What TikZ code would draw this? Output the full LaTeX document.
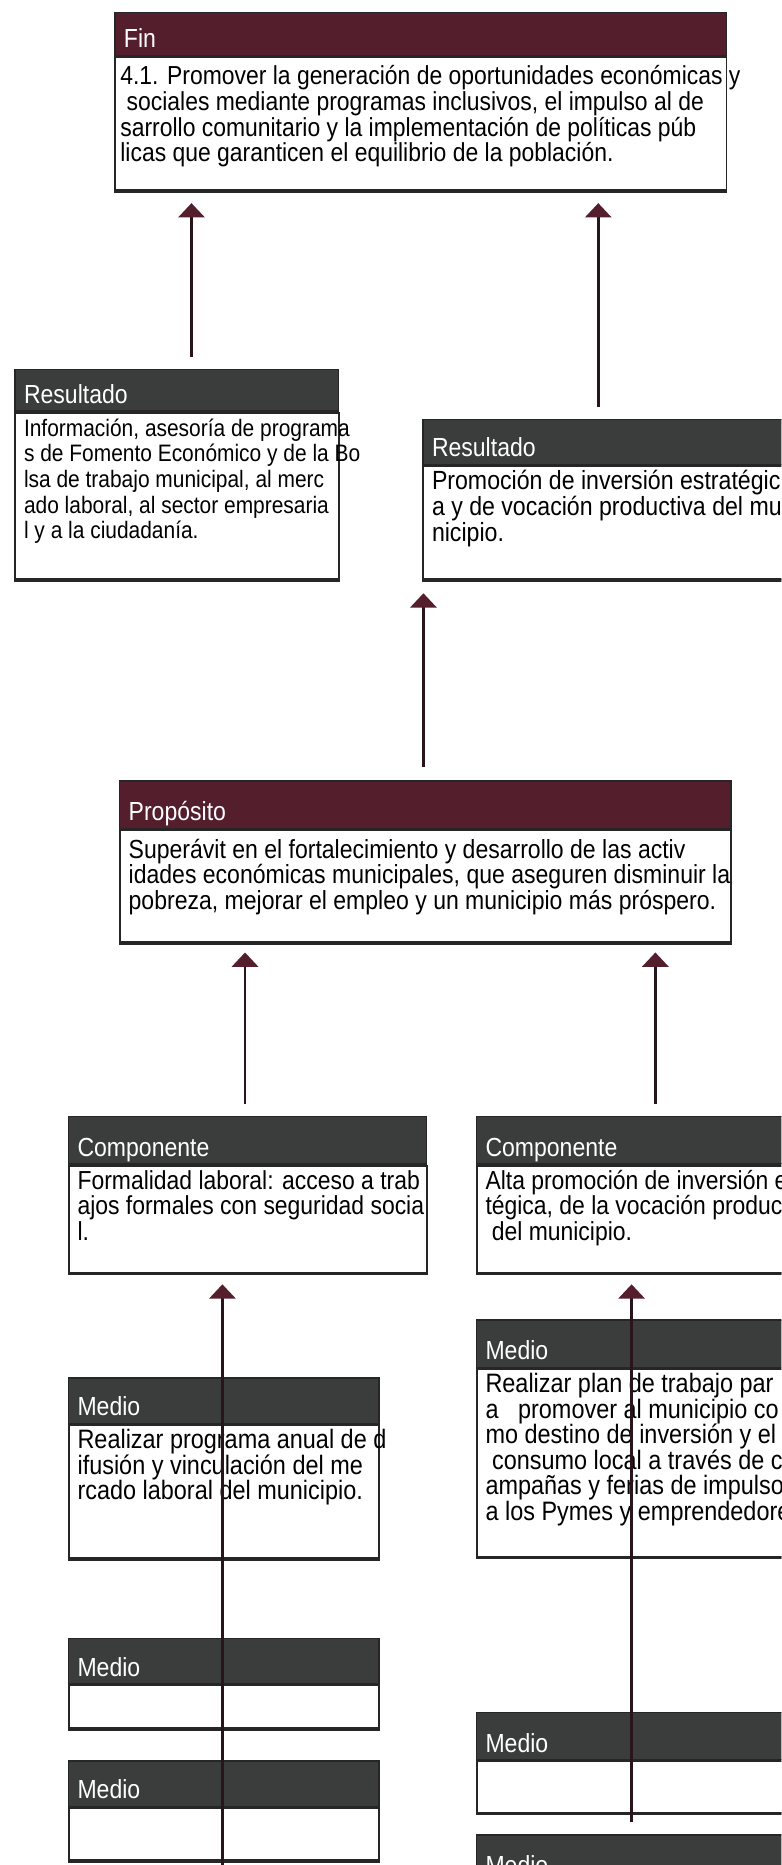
\documentclass[tikz,border=0pt]{standalone}
\usepackage{fontspec}
\setmainfont[FakeStretch=0.88]{Liberation Sans}
\usetikzlibrary{positioning}
\usetikzlibrary{arrows.meta}
\definecolor{vino}{RGB}{84,30,45}
\definecolor{pizarra}{RGB}{58,61,59}
\definecolor{flecha}{RGB}{40,20,28}
\newcommand{\letra}[1]{\fontsize{#1}{21.5}\selectfont}
\tikzset{
	cab/.style={
		rectangle,
		anchor=north west,
		draw=black!85,
		line width=1.2pt,
		minimum height=38pt,
		inner sep=0pt,
		label={[titulo]south west:#1}
	},
	titulo/.style={anchor=base west, text=white, font=\letra{22}, inner xsep=8pt, yshift=7pt},
	cuerpo/.style={
		rectangle,
		anchor=north west,
		draw=black!85,
		fill=white,
		line width=1.6pt,
		inner sep=0pt,
		append after command={(\tikzlastnode.south west) edge[line width=2.6pt, draw=black!85] (\tikzlastnode.south east)}
	},
	texto/.style={anchor=north west, align=left, font=\letra{#1}, inner sep=0pt},
	texto/.default=21.9,
	flechita/.style={
		line width=2.2pt,
		draw=flecha,
		-{Triangle[width=22pt, length=12pt, color=vino]}
	}
}
\begin{document}
\begin{tikzpicture}[x=1pt, y=-1pt]
		\useasboundingbox (0,0) rectangle (657,1568);
		\clip (0,0) rectangle (657,1568);
		% Fin
		\node[cab=Fin, fill=vino, minimum width=514, minimum height=36] (FinCab) at (96,10) {};
		\node[cuerpo, minimum width=514, minimum height=112] (Fin) at (FinCab.south west) {};
		\node[texto] (FinTxt) at ([shift={(5,5)}]Fin.north west) {\rule{0pt}{19pt}4.1. Promover la generación de oportunidades económicas y\\ \ sociales mediante programas inclusivos, el impulso al de\\ sarrollo comunitario y la implementación de políticas púb\\ licas que garanticen el equilibrio de la población.};
		
		% Resultados
		\node[cab=Resultado, fill=pizarra, minimum width=272, minimum height=35] (ResLCab) at (12,310) {};
		\node[cuerpo, minimum width=272, minimum height=140] (ResL) at (ResLCab.south west) {};
		\node[texto=20] (ResLTxt) at ([shift={(8,1.5)}]ResL.north west) {\rule{0pt}{19pt}Información, asesoría de programa\\ s de Fomento Económico y de la Bo\\ lsa de trabajo municipal, al merc\\ ado laboral, al sector empresaria\\ l y a la ciudadanía.};
		
		\node[cab=Resultado, fill=pizarra, minimum width=330] (ResRCab) at (355,352) {};
		\node[cuerpo, minimum width=330, minimum height=95] (ResR) at (ResRCab.south west) {};
		\node[texto=22.1] (ResRTxt) at ([shift={(8,1.5)}]ResR.north west) {\rule{0pt}{19pt}Promoción de inversión estratégic\\ a y de vocación productiva del mu\\ nicipio.};
		
		% Proposito
		\node[cab=Propósito, fill=vino, minimum width=514, minimum height=40] (PropCab) at (100,656) {};
		\node[cuerpo, minimum width=514, minimum height=94] (Prop) at (PropCab.south west) {};
		\node[texto=22] (PropTxt) at ([shift={(8,5)}]Prop.north west) {\rule{0pt}{19pt}Superávit en el fortalecimiento y desarrollo de las activ\\ idades económicas municipales, que aseguren disminuir la\\ pobreza, mejorar el empleo y un municipio más próspero.};
		
		% Componentes
		\node[cab=Componente, fill=pizarra, minimum width=301, minimum height=40] (CompLCab) at (57,938) {};
		\node[cuerpo, minimum width=301, minimum height=90] (CompL) at (CompLCab.south west) {};
		\node[texto] (CompLTxt) at ([shift={(8,1.5)}]CompL.north west) {\rule{0pt}{19pt}Formalidad laboral: acceso a trab\\ ajos formales con seguridad socia\\ l.};
		
		\node[cab=Componente, fill=pizarra, minimum width=300, minimum height=40] (CompRCab) at (400,938) {};
		\node[cuerpo, minimum width=300, minimum height=90] (CompR) at (CompRCab.south west) {};
		\node[texto] (CompRTxt) at ([shift={(8,1.5)}]CompR.north west) {\rule{0pt}{19pt}Alta promoción de inversión e\\ tégica, de la vocación produc\\ \ del municipio.};
		
		% Medios
		\node[cab=Medio, fill=pizarra, minimum width=261] (MedL1Cab) at (57,1158) {};
		\node[cuerpo, minimum width=261, minimum height=112] (MedL1) at (MedL1Cab.south west) {};
		\node[texto=22.4] (MedL1Txt) at ([shift={(8,1.5)}]MedL1.north west) {\rule{0pt}{19pt}Realizar programa anual de d\\ ifusión y vinculación del me\\ rcado laboral del municipio.};
		
		\node[cab=Medio, fill=pizarra, minimum width=300, minimum height=40] (MedR1Cab) at (400,1109) {};
		\node[cuerpo, minimum width=300, minimum height=158] (MedR1) at (MedR1Cab.south west) {};
		\node[texto=22.4] (MedR1Txt) at ([shift={(8,1.5)}]MedR1.north west) {\rule{0pt}{19pt}Realizar plan de trabajo par\\ a \ \ promover al municipio co\\ mo destino de inversión y el\\ \ consumo local a través de c\\ ampañas y ferias de impulso\\ a los Pymes y emprendedore};
		
		\node[cab=Medio, fill=pizarra, minimum width=261] (MedL2Cab) at (57,1377) {};
		\node[cuerpo, minimum width=261, minimum height=36] (MedL2) at (MedL2Cab.south west) {};
		
		\node[cab=Medio, fill=pizarra, minimum width=261] (MedL3Cab) at (57,1480) {};
		\node[cuerpo, minimum width=261, minimum height=44] (MedL3) at (MedL3Cab.south west) {};
		
		\node[cab=Medio, fill=pizarra, minimum width=300, minimum height=40] (MedR2Cab) at (400,1439) {};
		\node[cuerpo, minimum width=300, minimum height=43] (MedR2) at (MedR2Cab.south west) {};
		
		\node[cab=Medio, fill=pizarra, minimum width=300, minimum height=40] (MedR3Cab) at (400,1542) {};
		
		% flechas
		\coordinate (a1) at (161,300);
		\coordinate (a2) at (503,342);
		\coordinate (a3) at (356,645);
		\coordinate (a4) at (206,928);
		\coordinate (a5) at (551,928);
		\coordinate (a6) at (187,1568);
		\coordinate (a7) at (531,1532);
		\draw[flechita, shorten >=10pt] (a1) -- (a1 |- Fin.south);
		\draw[flechita, shorten >=10pt] (a2) -- (a2 |- Fin.south);
		\draw[flechita, shorten >=11pt] (a3) -- (a3 |- ResR.south);
		\draw[flechita, shorten >=8pt] (a4) -- (a4 |- Prop.south);
		\draw[flechita, shorten >=8pt] (a5) -- (a5 |- Prop.south);
		\draw[flechita, shorten >=9pt] (a6) -- (a6 |- CompL.south);
		\draw[flechita, shorten >=9pt] (a7) -- (a7 |- CompR.south);
	\end{tikzpicture}
\end{document}
